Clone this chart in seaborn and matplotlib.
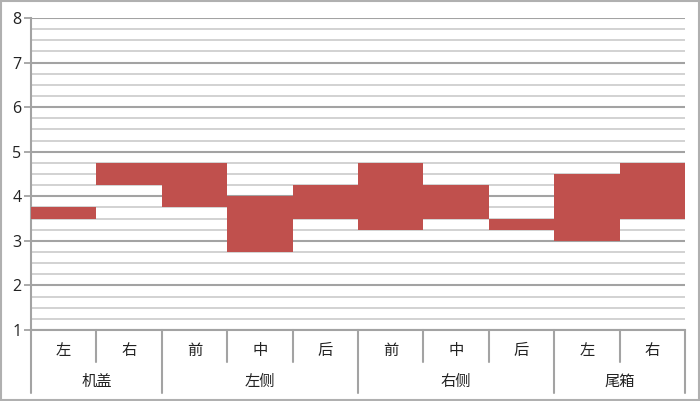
import seaborn as sns
import matplotlib.pyplot as plt
import matplotlib.transforms as mtransforms
from matplotlib.patches import Rectangle
from matplotlib.ticker import MultipleLocator
import pandas as pd

# data
groups = ["机盖", "左侧", "右侧", "尾箱"]
group_sizes = [2, 3, 3, 2]
parts = ["左", "右", "前", "中", "后", "前", "中", "后", "左", "右"]
low = [3.5, 4.25, 3.75, 2.75, 3.5, 3.25, 3.5, 3.25, 3.0, 3.5]
high = [3.75, 4.75, 4.75, 4.0, 4.25, 4.75, 4.25, 3.5, 4.5, 4.75]

sns.set_theme(style="white")
plt.rcParams['font.family'] = ['Noto Sans CJK SC', 'DejaVu Sans']

keys = [f"{i}_{p}" for i, p in enumerate(parts)]
df = pd.DataFrame({"key": keys, "span": [h - l for h, l in zip(high, low)], "low": low})

fig = plt.figure(figsize=(7, 4.01), dpi=100)
ax = fig.add_axes([31 / 700, 71 / 401, 654 / 700, 312 / 401])

# grid
ax.set_ylim(1, 8)
ax.yaxis.set_major_locator(MultipleLocator(1))
ax.yaxis.set_minor_locator(MultipleLocator(0.25))
ax.grid(which="minor", axis="y", color="#cfcfcf", lw=1.3)
ax.grid(which="major", axis="y", color="#a3a3a3", lw=1.5)
ax.set_axisbelow(True)

sns.barplot(data=df, x="key", y="span", order=keys, bottom=df["low"].tolist(),
            color="#c0504d", saturation=1, width=1.0, linewidth=0,
            ax=ax, zorder=3)
ax.set_xlim(-0.5, len(keys) - 0.5)
ax.set_ylim(1, 8)
ax.set_xlabel("")
ax.set_ylabel("")

for s in ["top", "right"]:
    ax.spines[s].set_visible(False)
ax.spines["bottom"].set_color("#a3a3a3")
ax.spines["bottom"].set_linewidth(1.5)
ax.spines["left"].set_color("#a3a3a3")
ax.spines["left"].set_linewidth(1.5)
ax.spines["left"].set_bounds(1, 8)

ax.tick_params(axis="y", which="major", length=5, width=1.3, color="#a3a3a3",
               labelsize=11.5, labelcolor="#222222", pad=2, left=True)
ax.tick_params(axis="y", which="minor", length=0)
ax.set_yticks(range(1, 9))
ax.set_yticklabels([str(v) for v in range(1, 9)], family=["Open Sans", "DejaVu Sans"])
ax.set_xticks([])

# hierarchical category axis
tr = mtransforms.blended_transform_factory(ax.transData, ax.transAxes)
h_ax = 312.0
sub_end = -32 / h_ax
grp_end = -63 / h_ax
line_kw = dict(color="#a3a3a3", lw=1.5, transform=tr, clip_on=False)

for i, p in enumerate(parts):
    ax.text(i, -20 / h_ax, p, transform=tr, ha="center", va="center",
            fontsize=11, color="#222222")

bounds = [-0.5]
for n in group_sizes:
    bounds.append(bounds[-1] + n)
for b in bounds:
    ax.plot([b, b], [0, grp_end], **line_kw)
for i in range(len(parts) - 1):
    b = i + 0.5
    if b not in bounds:
        ax.plot([b, b], [0, sub_end], **line_kw)
for g, a, b in zip(groups, bounds[:-1], bounds[1:]):
    ax.text((a + b) / 2, -51 / h_ax, g, transform=tr, ha="center", va="center",
            fontsize=11, color="#222222")

# outer frame
fig.patches.append(Rectangle((0.001, 0.002), 0.997, 0.995, transform=fig.transFigure,
                             fill=False, edgecolor="#b0b0b0", lw=1.5))

fig.savefig("out.png", dpi=100)
